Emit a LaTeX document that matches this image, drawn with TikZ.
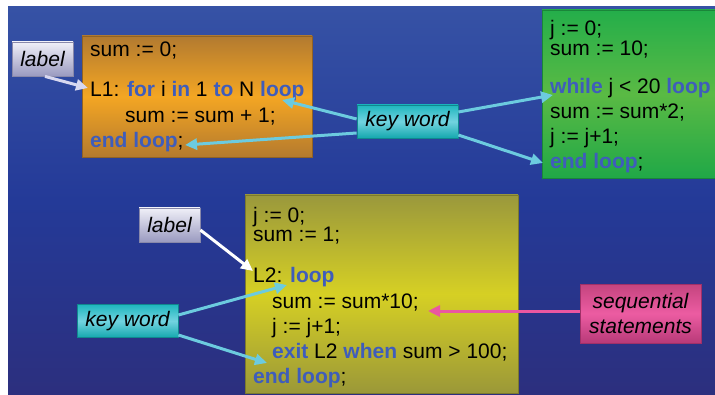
\documentclass[tikz,border=0pt]{standalone}
\usepackage{fontspec}
\setmainfont{Liberation Sans}
\usetikzlibrary{arrows.meta,calc}
\definecolor{kwc}{HTML}{3F5DBB}
\definecolor{bgtop}{HTML}{3652A5}
\definecolor{bgmid}{HTML}{243A98}
\definecolor{bgbot}{HTML}{2C2F7E}
\definecolor{cyanarr}{HTML}{6CCBDF}
\definecolor{lavarr}{HTML}{D8D8F0}
\definecolor{pinkarr}{HTML}{EA57A0}
\definecolor{orT}{HTML}{B27A30}
\definecolor{orM}{HTML}{F4A623}
\definecolor{orB}{HTML}{B47A2E}
\definecolor{grT}{HTML}{24AE4A}
\definecolor{grM}{HTML}{5ABA44}
\definecolor{grB}{HTML}{20A847}
\definecolor{yeT}{HTML}{9A983C}
\definecolor{yeM}{HTML}{D6D024}
\definecolor{yeB}{HTML}{9B9838}
\definecolor{lbT}{HTML}{F0F0F8}
\definecolor{lbB}{HTML}{9A9AC0}
\definecolor{lbD}{HTML}{8888AA}
\definecolor{kbT}{HTML}{1EB6BE}
\definecolor{kbM}{HTML}{72D3E0}
\definecolor{kbB}{HTML}{14A8AE}
\definecolor{kbD}{HTML}{10888E}
\definecolor{sqT}{HTML}{C4447E}
\definecolor{sqM}{HTML}{EC5CA2}
\definecolor{sqB}{HTML}{B83A78}
\definecolor{sqD}{HTML}{A03068}
\newcommand{\kwd}[1]{\textcolor{kwc}{\textbf{#1}}}
\tikzset{
  codebox/.style={rectangle, inner sep=0pt, line width=0.6pt},
  codeline/.style={anchor=base west, inner sep=0pt, font=\fontsize{21}{25}\selectfont, text=black},
  tagbase/.style={rectangle, inner sep=0pt, line width=0.8pt, font=\fontsize{21}{25}\selectfont\itshape, text=black, align=center},
  labelbox/.style={tagbase, draw=lbD, top color=lbT, bottom color=lbB, minimum width=61pt, minimum height=34pt},
  keybox/.style={tagbase, draw=kbD, top color=kbT, bottom color=kbB, middle color=kbM, minimum width=101pt, minimum height=33pt},
  seqbox/.style={tagbase, draw=sqD, top color=sqT, bottom color=sqB, middle color=sqM, minimum width=121pt, minimum height=59pt},
  carr/.style={line width=3pt, cyanarr, -{Triangle[length=12pt,width=11pt]}},
  larr/.style={line width=3pt, lavarr, -{Triangle[length=12pt,width=11pt]}},
  warr/.style={line width=3pt, white, -{Triangle[length=12pt,width=11pt]}},
  parr/.style={line width=3pt, pinkarr, -{Triangle[length=12pt,width=11pt]}}
}
\begin{document}
\begin{tikzpicture}[x=1pt,y=1pt]
\useasboundingbox (0,0) rectangle (715,394);
\fill[white] (0,0) rectangle (715,394);
\shade[top color=bgtop, bottom color=bgbot, middle color=bgmid] (8,0) rectangle (715,387);

% code boxes
\node[codebox, draw=orB!80!black, top color=orT, bottom color=orB, middle color=orM, minimum width=230pt, minimum height=121pt] (orange) at (197,297.5) {};
\node[codebox, draw=grB!80!black, top color=grT, bottom color=grB, middle color=grM, minimum width=173pt, minimum height=168pt] (green) at (628.5,300) {};
\node[codebox, draw=yeB!80!black, top color=yeT, bottom color=yeB, middle color=yeM, minimum width=273pt, minimum height=198pt] (yellow) at (381.5,100) {};

% orange text
\node[codeline] (o1) at (90,337) {sum := 0;};
\node[codeline] (o2) at (90,297) {L1: \kwd{for} i \kwd{in} 1 \kwd{to} N \kwd{loop}};
\node[codeline] (o3) at (125,271.5) {sum := sum + 1;};
\node[codeline] (o4) at (90,246) {\kwd{end loop};};

% green text
\node[codeline] (g1) at (550,358) {j := 0;};
\node[codeline] (g2) at (550,338) {sum := 10;};
\node[codeline] (g3) at (550,300) {\kwd{while} j < 20 \kwd{loop}};
\node[codeline] (g4) at (550,275) {sum := sum*2;};
\node[codeline] (g5) at (550,250) {j := j+1;};
\node[codeline] (g6) at (550,225) {\kwd{end loop};};

% yellow text
\node[codeline] (y1) at (253,171) {j := 0;};
\node[codeline] (y2) at (253,152) {sum := 1;};
\node[codeline] (y3) at (253,111) {L2: \kwd{loop}};
\node[codeline] (y4) at (272,86) {sum := sum*10;};
\node[codeline] (y5) at (272,61) {j := j+1;};
\node[codeline] (y6) at (272,36) {\kwd{exit} L2 \kwd{when} sum > 100;};
\node[codeline] (y7) at (253,11) {\kwd{end loop};};

% tags
\node[labelbox] (lab1) at (42.5,335) {label};
\node[keybox] (kw1) at (407.5,272.5) {key word};
\node[labelbox] (lab2) at (169.5,169) {label};
\node[keybox] (kw2) at (127.5,73) {key word};
\node[seqbox] (seq) at (640.5,80.5) {sequential\\statements};

% arrow targets
\coordinate (tL1) at (88,306);
\coordinate (tloop1) at (282,294);
\coordinate (tend1) at (185,249);
\coordinate (twhile) at (553,299);
\coordinate (tend2) at (543,231);
\coordinate (tL2) at (253,123);
\coordinate (tloop2) at (287,109);
\coordinate (texit) at (267,31);
\coordinate (tseq) at (428,83);

% arrows
\draw[larr] ([xshift=2.5pt]lab1.south) -- (tL1);
\draw[carr] ([yshift=2.5pt]kw1.west) -- (tloop1);
\draw[carr] ([yshift=-11.5pt]kw1.west) -- (tend1);
\draw[carr] ([yshift=9.5pt]kw1.east) -- (twhile);
\draw[carr] ([yshift=-13.5pt]kw1.east) -- (tend2);
\draw[warr] ([yshift=-5pt]lab2.east) -- (tL2);
\draw[carr] ([yshift=6pt]kw2.east) -- (tloop2);
\draw[carr] ([yshift=-14pt]kw2.east) -- (texit);
\draw[parr] ([yshift=2.5pt]seq.west) -- (tseq);
\end{tikzpicture}
\end{document}
